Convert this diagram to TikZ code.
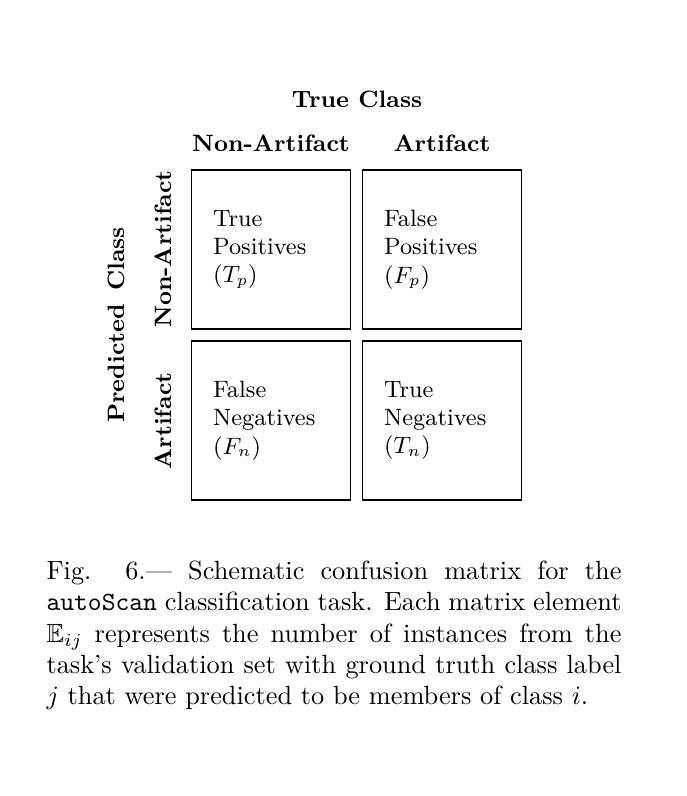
\documentclass[tikz,border=0pt]{standalone}
\usepackage{amssymb}
\begin{document}
\begin{tikzpicture}[x=0.38pt,y=-0.38pt,
  lab/.style={font=\fontsize{9}{10.8}\selectfont\bfseries, inner sep=0pt},
  cell/.style={draw=black, line width=0.45pt, minimum width=60.4pt, minimum height=60.4pt,
    text width=44pt, align=left, inner sep=0pt, font=\fontsize{9}{10.8}\selectfont}]
\useasboundingbox (0,0) rectangle (686,796);
% column / row headers
\node[lab, anchor=base] (tc) at (357,108) {True Class};
\node[lab, anchor=base] (cna) at (271,152) {Non-Artifact};
\node[lab, anchor=base] (ca) at (442,152) {Artifact};
\node[lab, anchor=base, rotate=90] (rna) at (171,249) {Non-Artifact};
\node[lab, anchor=base, rotate=90] (ra) at (171,421) {Artifact};
\node[lab, anchor=base, rotate=90] (pc) at (124,325) {Predicted\hspace{5pt}Class};
% cells
\node[cell] (tp) at (271,249.5) {True\\Positives\\($T_p$)};
\node[cell] (fp) at (442,249.5) {False\\Positives\\($F_p$)};
\node[cell] (fn) at (271,420.5) {False\\Negatives\\($F_n$)};
\node[cell] (tn) at (442,420.5) {True\\Negatives\\($T_n$)};
% caption
\node[anchor=north west, text width=218.5pt, align=justify, inner sep=0pt,
  font=\fontsize{10}{11.9}\selectfont] (cap) at (46,560.5)
  {Fig. 6.--- Schematic confusion matrix for the\linebreak
   \texttt{autoScan} classification task. Each matrix element\linebreak
   $\mathbb{E}_{ij}$ represents the number of instances from the\linebreak
   task's validation set with ground truth class label\linebreak
   $j$ that were predicted to be members of class~$i$.};
\end{tikzpicture}
\end{document}
